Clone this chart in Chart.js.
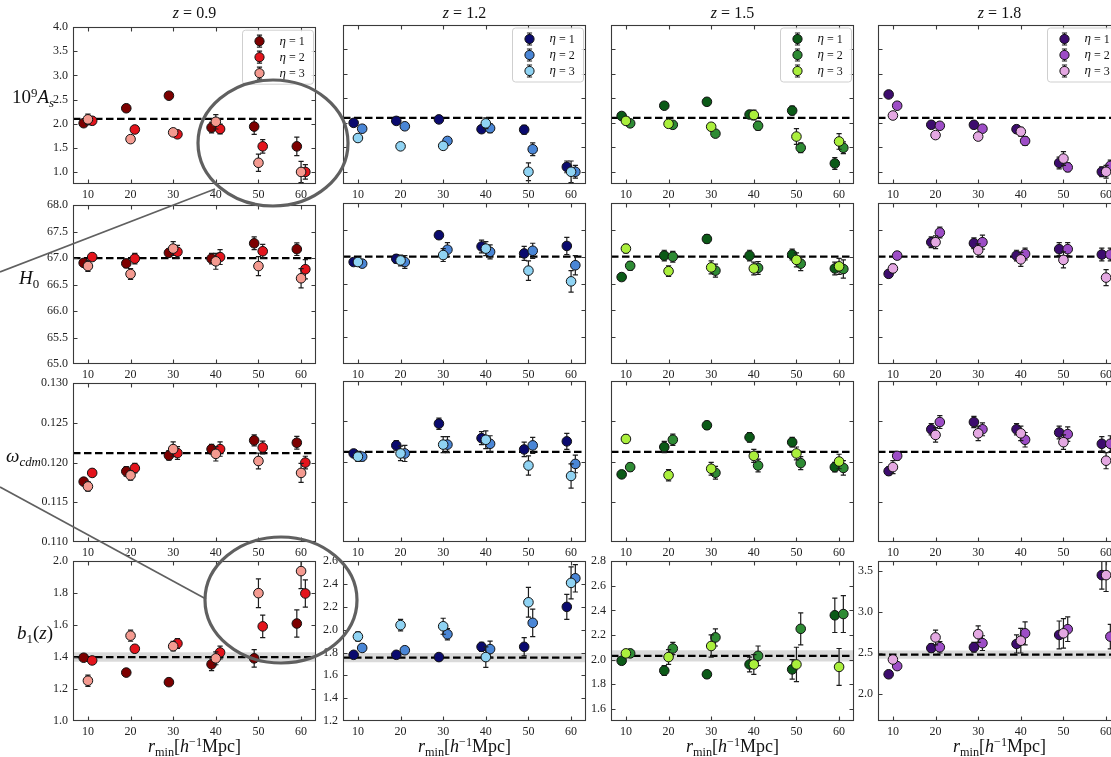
<!DOCTYPE html>
<html>
<head>
<meta charset="utf-8">
<title>Parameter constraints vs r_min</title>
<script src="https://cdn.jsdelivr.net/npm/chart.js@4.4.0/dist/chart.umd.min.js"></script>
<style>
  html, body { margin: 0; padding: 0; background: #fff; overflow: hidden; width: 1111px; height: 757px; }
  #fig { position: relative; width: 1111px; height: 757px; overflow: hidden; }
  canvas.panel { position: absolute; }
  .t { position: absolute; font-family: 'Liberation Serif', 'DejaVu Serif', serif; color: #111; white-space: nowrap; line-height: 1; }
  .title { font-size: 16px; transform: translate(-50%, -50%); }
  .ylab { font-size: 19px; transform: translate(0, -50%); }
  .xlab { font-size: 18px; transform: translate(-50%, -50%); }
  .sub { font-size: 0.68em; position: relative; top: 0.32em; }
  .sup { font-size: 0.68em; position: relative; top: -0.5em; }
  svg.ann { position: absolute; left: 0; top: 0; pointer-events: none; }
</style>
</head>
<body>
<div id="fig">
  <div class="t title" style="left:194.5px;top:13px"><i>z</i> = 0.9</div>
  <div class="t title" style="left:464.5px;top:13px"><i>z</i> = 1.2</div>
  <div class="t title" style="left:732.5px;top:13px"><i>z</i> = 1.5</div>
  <div class="t title" style="left:999.5px;top:13px"><i>z</i> = 1.8</div>

  <div class="t ylab" style="left:12px;top:96px">10<span class="sup">9</span><i>A</i><span class="sub"><i>s</i></span></div>
  <div class="t ylab" style="left:19px;top:277px"><i>H</i><span class="sub">0</span></div>
  <div class="t ylab" style="left:6px;top:455px"><i>ω</i><span class="sub"><i>cdm</i></span></div>
  <div class="t ylab" style="left:17px;top:632px"><i>b</i><span class="sub">1</span>(<i>z</i>)</div>

  <div class="t xlab" style="left:194.5px;top:746px"><i>r</i><span class="sub">min</span>[<i>h</i><span class="sup">−1</span>Mpc]</div>
  <div class="t xlab" style="left:464.5px;top:746px"><i>r</i><span class="sub">min</span>[<i>h</i><span class="sup">−1</span>Mpc]</div>
  <div class="t xlab" style="left:732.5px;top:746px"><i>r</i><span class="sub">min</span>[<i>h</i><span class="sup">−1</span>Mpc]</div>
  <div class="t xlab" style="left:999.5px;top:746px"><i>r</i><span class="sub">min</span>[<i>h</i><span class="sup">−1</span>Mpc]</div>
</div>

<script>
// ---- scale cuts and series ----
const rmin = [10, 20, 30, 40, 50, 60];
const redshifts = ['0.9', '1.2', '1.5', '1.8'];
const etaNames = ['1', '2', '3'];
const dodge = [-1, 1, 0];              // horizontal offset of eta = 1, 2, 3 around each r_min

// ---- 10^9 A_s, rows are eta = 1, 2, 3 ----
const As_z09 = [[2.01, 2.32, 2.58, 1.92, 1.94, 1.53], [2.06, 1.88, 1.78, 1.89, 1.53, 1.00], [2.09, 1.68, 1.82, 2.04, 1.19, 1.00]];
const As_z09_err = [[0.04, 0.03, 0.05, 0.11, 0.16, 0.19], [0.03, 0.04, 0.05, 0.10, 0.14, 0.15], [0.11, 0.06, 0.06, 0.15, 0.18, 0.22]];
const As_z12 = [[2.00, 2.04, 2.07, 1.87, 1.86, 1.10], [1.88, 1.93, 1.63, 1.89, 1.46, 1.00], [1.69, 1.52, 1.53, 1.99, 1.00, 1.00]];
const As_z12_err = [[0.03, 0.03, 0.03, 0.07, 0.09, 0.12], [0.03, 0.04, 0.05, 0.09, 0.13, 0.13], [0.04, 0.05, 0.06, 0.11, 0.18, 0.22]];
const As_z15 = [[2.14, 2.35, 2.43, 2.17, 2.25, 1.17], [1.99, 1.96, 1.78, 1.94, 1.49, 1.49], [2.04, 1.98, 1.92, 2.16, 1.72, 1.62]];
const As_z15_err = [[0.03, 0.06, 0.05, 0.08, 0.09, 0.12], [0.03, 0.05, 0.06, 0.09, 0.10, 0.12], [0.03, 0.06, 0.06, 0.10, 0.16, 0.16]];
const As_z18 = [[2.58, 1.96, 1.96, 1.87, 1.18, 1.00], [2.35, 1.94, 1.88, 1.63, 1.09, 1.12], [2.15, 1.75, 1.72, 1.82, 1.27, 1.00]];
const As_z18_err = [[0.03, 0.04, 0.04, 0.08, 0.12, 0.10], [0.04, 0.05, 0.06, 0.09, 0.09, 0.12], [0.05, 0.07, 0.07, 0.09, 0.14, 0.13]];

// ---- H_0 ----
const H0_z09 = [[66.91, 66.90, 67.10, 66.99, 67.28, 67.17], [67.02, 66.99, 67.12, 67.02, 67.13, 66.79], [66.85, 66.70, 67.18, 66.94, 66.85, 66.62]];
const H0_z09_err = [[0.05, 0.08, 0.07, 0.10, 0.12, 0.12], [0.05, 0.10, 0.12, 0.14, 0.13, 0.18], [0.10, 0.10, 0.13, 0.15, 0.18, 0.18]];
const H0_z12 = [[66.90, 66.96, 67.40, 67.19, 67.06, 67.20], [66.87, 66.90, 67.13, 67.09, 67.11, 66.84], [66.90, 66.93, 67.03, 67.15, 66.74, 66.54]];
const H0_z12_err = [[0.06, 0.08, 0.07, 0.12, 0.13, 0.16], [0.06, 0.12, 0.13, 0.13, 0.14, 0.18], [0.06, 0.10, 0.12, 0.13, 0.18, 0.20]];
const H0_z15 = [[66.62, 67.02, 67.33, 67.02, 67.04, 66.78], [66.83, 67.00, 66.74, 66.79, 66.87, 66.77], [67.15, 66.73, 66.80, 66.78, 66.94, 66.82]];
const H0_z15_err = [[0.06, 0.10, 0.08, 0.10, 0.10, 0.12], [0.08, 0.10, 0.12, 0.12, 0.13, 0.17], [0.08, 0.10, 0.12, 0.12, 0.13, 0.15]];
const H0_z18 = [[66.68, 67.27, 67.25, 67.02, 67.14, 67.04], [67.02, 67.45, 67.27, 67.05, 67.14, 67.04], [66.78, 67.27, 67.12, 66.95, 66.94, 66.61]];
const H0_z18_err = [[0.06, 0.10, 0.10, 0.10, 0.12, 0.12], [0.07, 0.10, 0.13, 0.11, 0.12, 0.12], [0.08, 0.12, 0.12, 0.13, 0.15, 0.15]];

// ---- omega_cdm ----
const Om_z09 = [[0.1176, 0.1189, 0.1209, 0.1217, 0.1228, 0.1225], [0.1187, 0.1193, 0.1212, 0.1217, 0.1219, 0.1200], [0.1170, 0.1184, 0.1217, 0.1211, 0.1202, 0.1187]];
const Om_z09_err = [[0.0004, 0.0006, 0.0006, 0.0006, 0.0007, 0.0008], [0.0004, 0.0006, 0.0008, 0.0009, 0.0008, 0.0008], [0.0006, 0.0006, 0.0009, 0.0009, 0.0010, 0.0012]];
const Om_z12 = [[0.1210, 0.1220, 0.1247, 0.1229, 0.1215, 0.1225], [0.1206, 0.1210, 0.1221, 0.1222, 0.1220, 0.1197], [0.1206, 0.1210, 0.1221, 0.1227, 0.1195, 0.1182]];
const Om_z12_err = [[0.0003, 0.0006, 0.0007, 0.0008, 0.0009, 0.0010], [0.0005, 0.0010, 0.0010, 0.0010, 0.0010, 0.0011], [0.0006, 0.0009, 0.0010, 0.0011, 0.0012, 0.0015]];
const Om_z15 = [[0.1184, 0.1218, 0.1245, 0.1230, 0.1224, 0.1193], [0.1193, 0.1227, 0.1186, 0.1195, 0.1198, 0.1192], [0.1228, 0.1183, 0.1191, 0.1207, 0.1210, 0.1200]];
const Om_z15_err = [[0.0004, 0.0007, 0.0005, 0.0006, 0.0006, 0.0006], [0.0005, 0.0007, 0.0008, 0.0008, 0.0008, 0.0009], [0.0005, 0.0007, 0.0008, 0.0008, 0.0008, 0.0009]];
const Om_z18 = [[0.1188, 0.1240, 0.1249, 0.1240, 0.1236, 0.1222], [0.1207, 0.1249, 0.1240, 0.1227, 0.1234, 0.1222], [0.1193, 0.1233, 0.1235, 0.1235, 0.1224, 0.1201]];
const Om_z18_err = [[0.0005, 0.0007, 0.0007, 0.0007, 0.0008, 0.0009], [0.0005, 0.0008, 0.0008, 0.0009, 0.0009, 0.0010], [0.0008, 0.0009, 0.0009, 0.0009, 0.0009, 0.0010]];

// ---- b_1(z) ----
const B1_z09 = [[1.396, 1.303, 1.243, 1.355, 1.392, 1.610], [1.379, 1.452, 1.485, 1.429, 1.592, 1.798], [1.252, 1.534, 1.468, 1.392, 1.800, 1.938]];
const B1_z09_err = [[0.010, 0.010, 0.010, 0.040, 0.055, 0.085], [0.010, 0.020, 0.030, 0.040, 0.070, 0.085], [0.035, 0.035, 0.030, 0.040, 0.090, 0.110]];
const B1_z12 = [[1.78, 1.78, 1.76, 1.85, 1.85, 2.20], [1.84, 1.82, 1.96, 1.83, 2.06, 2.45], [1.94, 2.04, 2.03, 1.76, 2.24, 2.41]];
const B1_z12_err = [[0.01, 0.01, 0.01, 0.04, 0.08, 0.11], [0.02, 0.03, 0.05, 0.07, 0.12, 0.12], [0.04, 0.05, 0.07, 0.09, 0.13, 0.14]];
const B1_z15 = [[1.99, 1.91, 1.88, 1.96, 1.92, 2.36], [2.05, 2.09, 2.18, 2.03, 2.25, 2.37], [2.05, 2.02, 2.11, 1.96, 1.96, 1.94]];
const B1_z15_err = [[0.02, 0.04, 0.03, 0.06, 0.08, 0.14], [0.03, 0.05, 0.07, 0.08, 0.13, 0.15], [0.03, 0.06, 0.09, 0.08, 0.14, 0.15]];
const B1_z18 = [[2.24, 2.56, 2.57, 2.61, 2.72, 3.45], [2.34, 2.57, 2.62, 2.74, 2.79, 2.70], [2.42, 2.69, 2.73, 2.65, 2.74, 3.45]];
const B1_z18_err = [[0.02, 0.05, 0.06, 0.11, 0.17, 0.17], [0.03, 0.07, 0.09, 0.14, 0.15, 0.15], [0.03, 0.09, 0.10, 0.15, 0.18, 0.20]];

// ---- fiducial values ----
const fidAs = 2.1;
const fidH0 = 67.0;
const fidOm = 0.1212;
const fidB1 = [1.40, 1.755, 2.03, 2.48];
const bandB1 = [0.03, 0.04, 0.045, 0.05];

// ---- axis limits and tick labels ----
const xRange = [6.5, 63.5];
const xTicks = [10, 20, 30, 40, 50, 60];
const asRange = [0.75, 4.0];
const asTicks = [1.0, 1.5, 2.0, 2.5, 3.0, 3.5, 4.0];
const h0Range = [65.0, 68.0];
const h0Ticks = [65.0, 65.5, 66.0, 66.5, 67.0, 67.5, 68.0];
const omRange = [0.110, 0.130];
const omTicks = [0.110, 0.115, 0.120, 0.125, 0.130];
const b1Range = [[1.0, 2.0], [1.2, 2.6], [1.5, 2.8], [1.67, 3.62]];
const b1Ticks = [[1.0, 1.2, 1.4, 1.6, 1.8, 2.0], [1.2, 1.4, 1.6, 1.8, 2.0, 2.2, 2.4, 2.6], [1.6, 1.8, 2.0, 2.2, 2.4, 2.6, 2.8], [2.0, 2.5, 3.0, 3.5]];

// ---- colours: one family per redshift, eta = 1, 2, 3 ----
const palette = [
  ['#7d0000', '#e3141c', '#f49a90'],
  ['#0a0a6e', '#4a86d6', '#8fd3f3'],
  ['#0b5a17', '#2e8b34', '#aaef3c'],
  ['#3d0c6e', '#9d4dc6', '#e4a8e2']
];

// ---- grid geometry ----
const colLeft = [73, 343, 611, 878];
const rowTop = [25, 203, 381, 559];
const rowH = [159, 161, 161, 162];
const panelW = 243;
const padL = 48, padT = 10, padR = 10, padB = 26;
const serif = "'Liberation Serif', 'DejaVu Serif', serif";

// vertical error bars, drawn just under each series' markers
const errorBars = {
  id: 'errorBars',
  beforeDatasetDraw(chart, args) {
    const ds = chart.data.datasets[args.index];
    if (!ds.errors) return;
    const { ctx, chartArea: a } = chart;
    const xs = chart.scales.x, ys = chart.scales.y;
    ctx.save();
    ctx.beginPath();
    ctx.rect(a.left, a.top, a.width, a.height);
    ctx.clip();
    ctx.strokeStyle = '#1c1c1c';
    ctx.lineWidth = 1.2;
    ds.data.forEach((p, i) => {
      const e = ds.errors[i];
      const px = xs.getPixelForValue(p.x);
      const lo = ys.getPixelForValue(p.y - e);
      const hi = ys.getPixelForValue(p.y + e);
      ctx.beginPath();
      ctx.moveTo(px, lo); ctx.lineTo(px, hi);
      ctx.moveTo(px - 2.6, lo); ctx.lineTo(px + 2.6, lo);
      ctx.moveTo(px - 2.6, hi); ctx.lineTo(px + 2.6, hi);
      ctx.stroke();
    });
    ctx.restore();
  }
};

// axes frame with inward ticks on all four sides
const frameTicks = {
  id: 'frameTicks',
  afterDatasetsDraw(chart) {
    const { ctx, chartArea: a } = chart;
    const xs = chart.scales.x, ys = chart.scales.y;
    const L = Math.round(a.left) + 0.5, R = Math.round(a.right) - 0.5;
    const T = Math.round(a.top) + 0.5, B = Math.round(a.bottom) - 0.5;
    ctx.save();
    ctx.strokeStyle = '#3a3a3a';
    ctx.lineWidth = 1.1;
    ctx.strokeRect(L, T, R - L, B - T);
    ctx.beginPath();
    xs.ticks.forEach(t => {
      const px = Math.round(xs.getPixelForValue(t.value)) + 0.5;
      ctx.moveTo(px, B); ctx.lineTo(px, B - 4);
      ctx.moveTo(px, T); ctx.lineTo(px, T + 4);
    });
    ys.ticks.forEach(t => {
      const py = Math.round(ys.getPixelForValue(t.value)) + 0.5;
      if (py < T + 1 || py > B - 1) return;
      ctx.moveTo(L, py); ctx.lineTo(L + 4, py);
      ctx.moveTo(R, py); ctx.lineTo(R - 4, py);
    });
    ctx.stroke();
    ctx.restore();
  }
};

// legend box in the upper right of the chart area
const innerLegend = {
  id: 'innerLegend',
  afterDraw(chart, args, opts) {
    if (!opts || !opts.show) return;
    const { ctx, chartArea: a } = chart;
    const series = chart.data.datasets.filter(d => d.errors);
    const w = 71, h = 54;
    const x0 = a.right - 2.5 - w, y0 = a.top + 3;
    ctx.save();
    ctx.beginPath();
    ctx.roundRect(x0, y0, w, h, 3);
    ctx.fillStyle = 'rgba(255,255,255,0.85)';
    ctx.fill();
    ctx.strokeStyle = '#cfcfcf';
    ctx.lineWidth = 1;
    ctx.stroke();
    series.forEach((d, i) => {
      const cy = y0 + 11 + i * 16;
      const cx = x0 + 17;
      ctx.strokeStyle = '#1c1c1c';
      ctx.lineWidth = 1.2;
      ctx.beginPath();
      ctx.moveTo(cx, cy - 6); ctx.lineTo(cx, cy + 6);
      ctx.moveTo(cx - 2.6, cy - 6); ctx.lineTo(cx + 2.6, cy - 6);
      ctx.moveTo(cx - 2.6, cy + 6); ctx.lineTo(cx + 2.6, cy + 6);
      ctx.stroke();
      ctx.beginPath();
      ctx.arc(cx, cy, 4.6, 0, Math.PI * 2);
      ctx.fillStyle = d.pointBackgroundColor;
      ctx.fill();
      ctx.strokeStyle = '#111';
      ctx.lineWidth = 1;
      ctx.stroke();
      ctx.fillStyle = '#111';
      ctx.textBaseline = 'middle';
      ctx.font = 'italic 13px ' + serif;
      ctx.fillText('η', x0 + 37, cy);
      const ew = ctx.measureText('η').width;
      ctx.font = '12px ' + serif;
      ctx.fillText(' = ' + d.etaName, x0 + 37 + ew, cy + 0.5);
    });
    ctx.restore();
  }
};

const rowsSpec = [
  { vals: [As_z09, As_z12, As_z15, As_z18], errs: [As_z09_err, As_z12_err, As_z15_err, As_z18_err],
    range: c => asRange, ticks: c => asTicks, dec: 1, fid: c => fidAs, band: null },
  { vals: [H0_z09, H0_z12, H0_z15, H0_z18], errs: [H0_z09_err, H0_z12_err, H0_z15_err, H0_z18_err],
    range: c => h0Range, ticks: c => h0Ticks, dec: 1, fid: c => fidH0, band: null },
  { vals: [Om_z09, Om_z12, Om_z15, Om_z18], errs: [Om_z09_err, Om_z12_err, Om_z15_err, Om_z18_err],
    range: c => omRange, ticks: c => omTicks, dec: 3, fid: c => fidOm, band: null },
  { vals: [B1_z09, B1_z12, B1_z15, B1_z18], errs: [B1_z09_err, B1_z12_err, B1_z15_err, B1_z18_err],
    range: c => b1Range[c], ticks: c => b1Ticks[c], dec: 1, fid: c => fidB1[c], band: c => bandB1[c] }
];

const fig = document.getElementById('fig');
const firstText = fig.firstChild;

rowsSpec.forEach((spec, r) => {
  for (let c = 0; c < 4; c++) {
    const cv = document.createElement('canvas');
    cv.className = 'panel';
    const W = panelW + padL + padR, H = rowH[r] + padT + padB;
    cv.width = W; cv.height = H;
    cv.style.left = (colLeft[c] - padL) + 'px';
    cv.style.top = (rowTop[r] - padT) + 'px';
    cv.style.width = W + 'px'; cv.style.height = H + 'px';
    fig.insertBefore(cv, firstText);

    const datasets = [];
    for (let k = 0; k < 3; k++) {
      datasets.push({
        label: 'η = ' + etaNames[k],
        etaName: etaNames[k],
        data: rmin.map((rv, i) => ({ x: rv + dodge[k], y: spec.vals[c][k][i] })),
        errors: spec.errs[c][k],
        pointRadius: 4.8,
        pointHoverRadius: 4.8,
        pointBorderWidth: 1,
        pointBorderColor: '#111',
        pointBackgroundColor: palette[c][k],
        showLine: false,
        clip: 0,
        order: 3 - k
      });
    }
    const fid = spec.fid(c);
    datasets.push({
      type: 'line',
      data: [{ x: xRange[0], y: fid }, { x: xRange[1], y: fid }],
      borderColor: '#000',
      borderWidth: 2.2,
      borderDash: [7.5, 3.5],
      pointRadius: 0,
      fill: false,
      order: 10
    });
    if (spec.band) {
      const bw = spec.band(c);
      datasets.push({
        type: 'line',
        data: [{ x: xRange[0], y: fid + bw }, { x: xRange[1], y: fid + bw }],
        borderWidth: 0,
        borderColor: 'rgba(0,0,0,0)',
        pointRadius: 0,
        backgroundColor: 'rgba(150,150,150,0.35)',
        fill: { value: fid - bw },
        order: 20
      });
    }

    const yr = spec.range(c), yt = spec.ticks(c);
    const showY = (c === 0) || (r === 3);
    new Chart(cv, {
      type: 'scatter',
      data: { datasets },
      options: {
        responsive: false,
        animation: false,
        events: [],
        layout: { padding: { left: 0, top: padT, right: padR, bottom: 0 } },
        plugins: {
          legend: { display: false },
          tooltip: { enabled: false },
          innerLegend: { show: r === 0 }
        },
        scales: {
          x: {
            type: 'linear',
            min: xRange[0], max: xRange[1],
            afterBuildTicks: s => { s.ticks = xTicks.map(v => ({ value: v })); },
            afterFit: s => { s.height = padB; },
            grid: { display: false, drawTicks: false },
            border: { display: false },
            ticks: { color: '#222', padding: 4, font: { family: serif, size: 12 }, maxRotation: 0, callback: v => String(v) }
          },
          y: {
            type: 'linear',
            min: yr[0], max: yr[1],
            afterBuildTicks: s => { s.ticks = yt.map(v => ({ value: v })); },
            afterFit: s => { s.width = padL; },
            grid: { display: false, drawTicks: false },
            border: { display: false },
            ticks: { display: showY, color: '#222', padding: 5, font: { family: serif, size: 12 }, callback: v => Number(v).toFixed(spec.dec) }
          }
        }
      },
      plugins: [errorBars, frameTicks, innerLegend]
    });
  }
});

// highlight rings around the large-scale points of the first redshift bin
const ns = 'http://www.w3.org/2000/svg';
const svg = document.createElementNS(ns, 'svg');
svg.setAttribute('class', 'ann');
svg.setAttribute('width', '1111');
svg.setAttribute('height', '757');
const rings = [[273, 143, 75, 63], [281, 600, 76, 63]];
rings.forEach(([cx, cy, rx, ry]) => {
  const e = document.createElementNS(ns, 'ellipse');
  e.setAttribute('cx', cx); e.setAttribute('cy', cy);
  e.setAttribute('rx', rx); e.setAttribute('ry', ry);
  e.setAttribute('fill', 'none'); e.setAttribute('stroke', '#606060'); e.setAttribute('stroke-width', '3.2');
  svg.appendChild(e);
});
const leaders = [[0, 272, 215, 189], [0, 487, 206, 599]];
leaders.forEach(([x1, y1, x2, y2]) => {
  const l = document.createElementNS(ns, 'line');
  l.setAttribute('x1', x1); l.setAttribute('y1', y1);
  l.setAttribute('x2', x2); l.setAttribute('y2', y2);
  l.setAttribute('stroke', '#606060'); l.setAttribute('stroke-width', '1.7');
  svg.appendChild(l);
});
fig.appendChild(svg);
</script>
</body>
</html>
